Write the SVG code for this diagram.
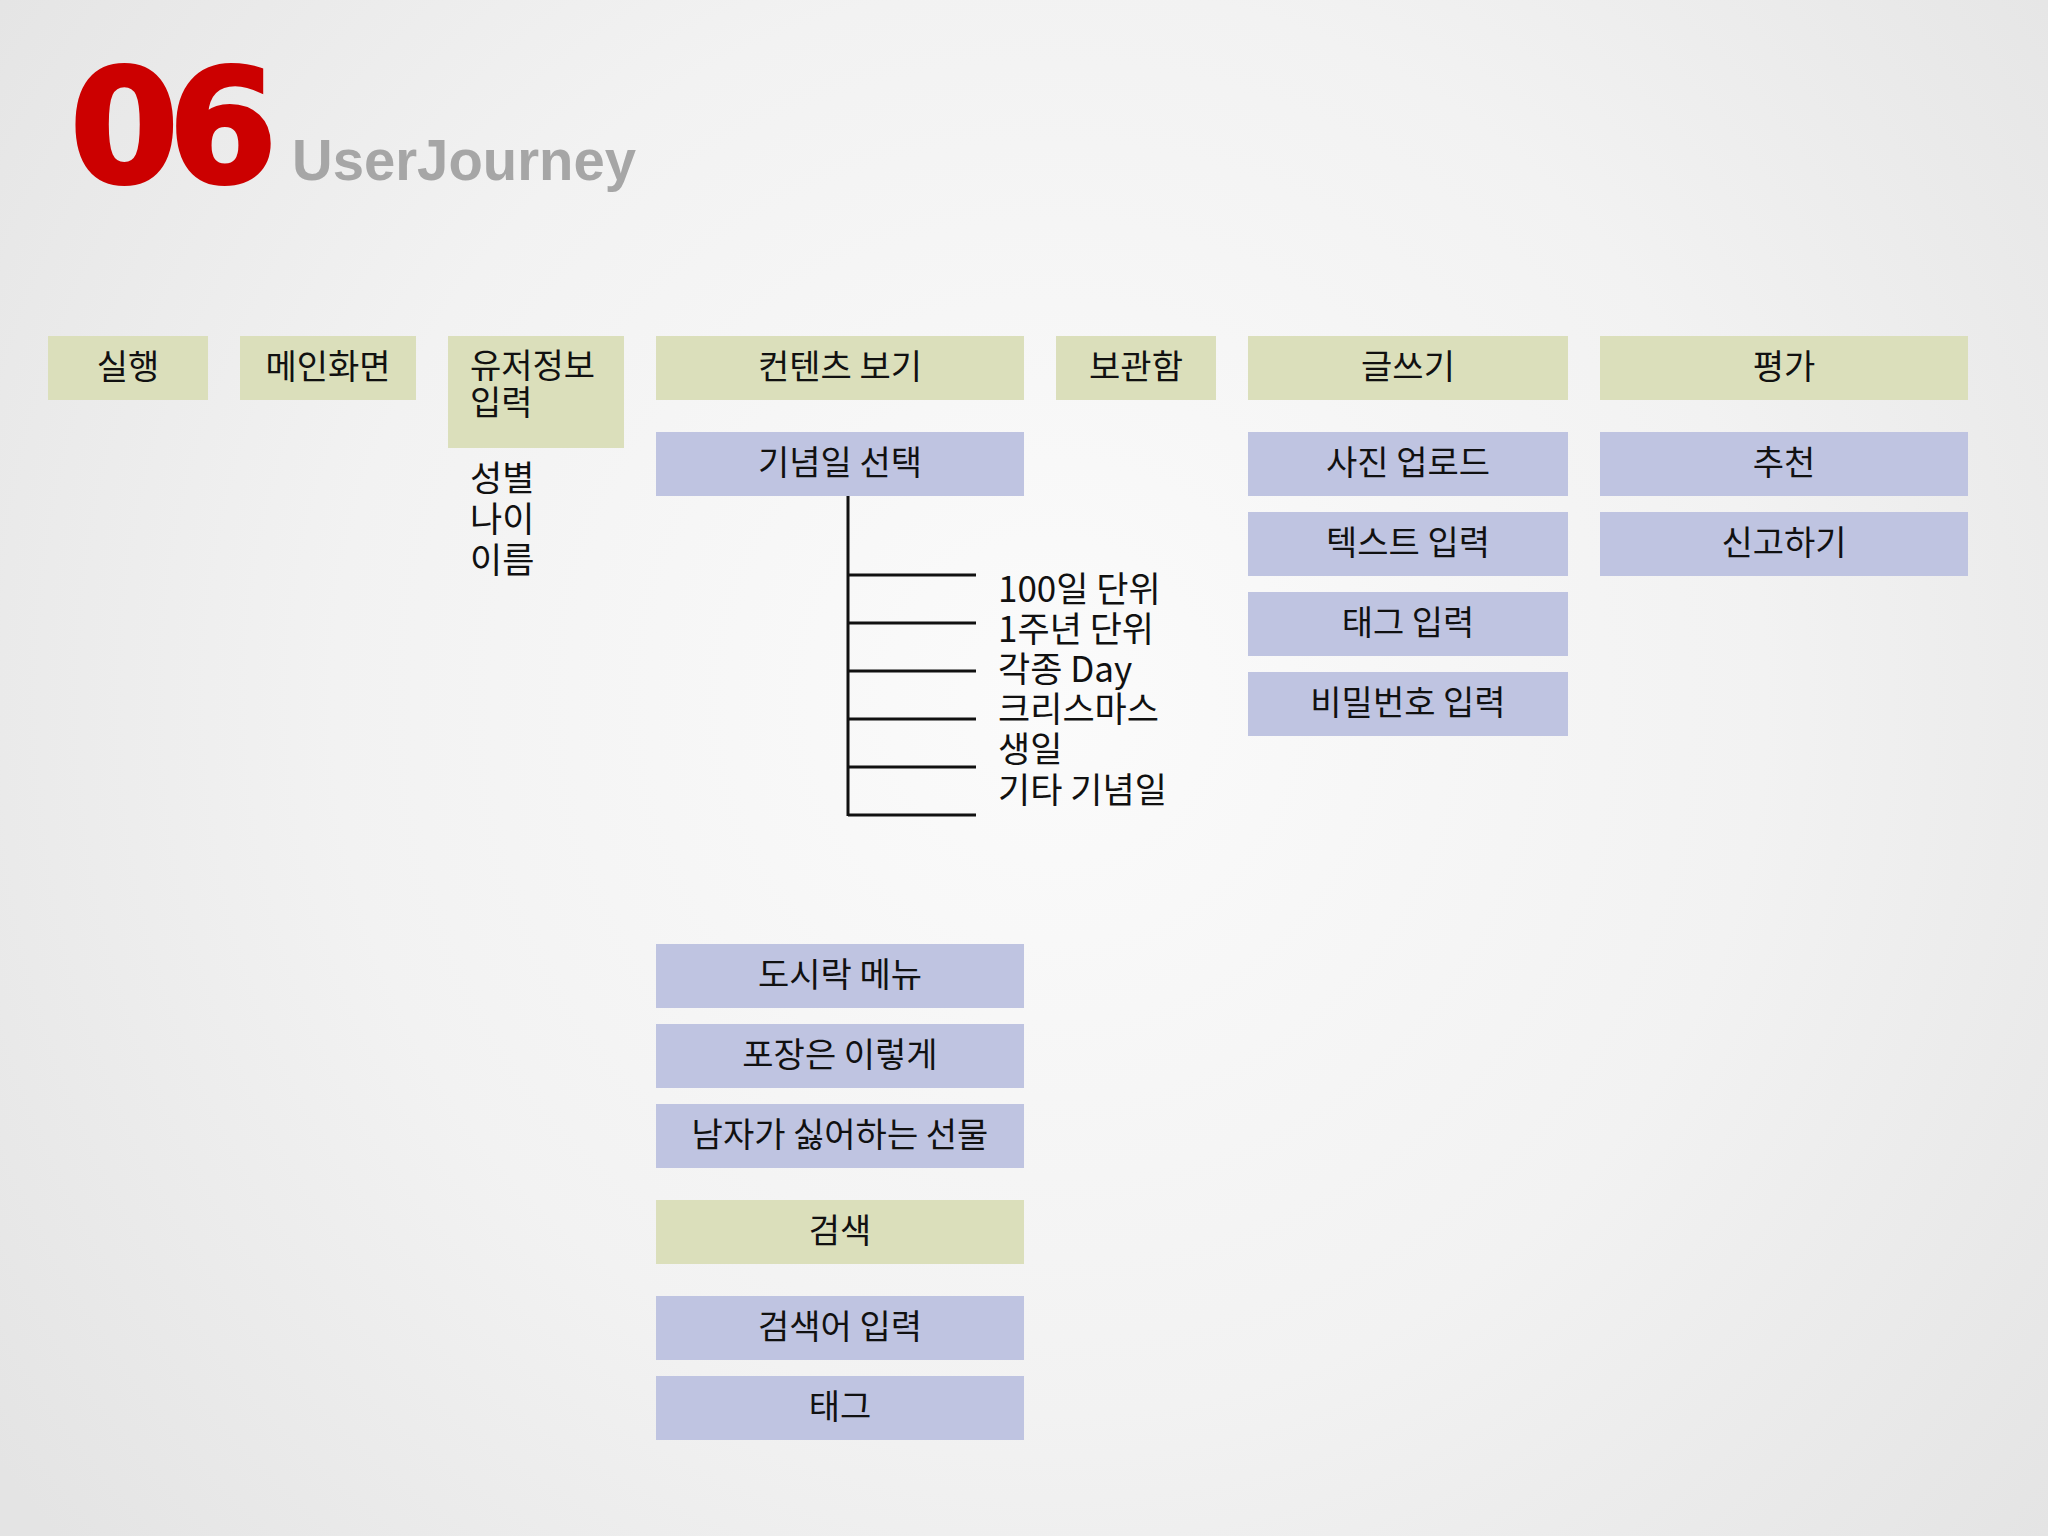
<svg xmlns="http://www.w3.org/2000/svg" width="2048" height="1536" viewBox="0 0 2048 1536">
<defs>
<radialGradient id="bg" cx="1050" cy="700" r="1300" gradientUnits="userSpaceOnUse">
<stop offset="0" stop-color="#fbfbfb"/>
<stop offset="0.55" stop-color="#f2f2f2"/>
<stop offset="1" stop-color="#e4e4e4"/>
</radialGradient>
<style>
.g{fill:#dbdfbb}
.b{fill:#bfc4e1}
.t{font-family:"Noto Sans CJK KR","Liberation Sans",sans-serif;font-size:34px;fill:#111;text-anchor:middle}
.tl{font-family:"Noto Sans CJK KR","Liberation Sans",sans-serif;font-size:34px;fill:#111}
.lst{font-family:"Noto Sans CJK KR","Liberation Sans",sans-serif;font-size:35px;fill:#111}
.ln{stroke:#111;stroke-width:3;fill:none}
</style>
</defs>
<rect width="2048" height="1536" fill="url(#bg)"/>
<g id="title">
<text x="70" y="182" font-family="DejaVu Sans" font-weight="bold" font-size="156" fill="#cc0000" stroke="#cc0000" stroke-width="4" letter-spacing="-10">06</text>
<text x="292" y="180" font-family="Liberation Sans" font-weight="bold" font-size="58" fill="#a6a6a6" textLength="344" lengthAdjust="spacingAndGlyphs">UserJourney</text>
</g>
<g id="n-run"><rect class="g" x="48" y="336" width="160" height="64"/><text class="t" x="128" y="379">실행</text></g>
<g id="n-main"><rect class="g" x="240" y="336" width="176" height="64"/><text class="t" x="328" y="379">메인화면</text></g>
<g id="n-user"><rect class="g" x="448" y="336" width="176" height="112"/><text class="tl" x="470" y="378">유저정보</text><text class="tl" x="470" y="415">입력</text></g>
<g id="n-userinfo"><text class="lst" x="470" y="491">성별</text><text class="lst" x="470" y="532">나이</text><text class="lst" x="470" y="573">이름</text></g>
<g id="n-content"><rect class="g" x="656" y="336" width="368" height="64"/><text class="t" x="840" y="379">컨텐츠 보기</text></g>
<g id="n-box"><rect class="g" x="1056" y="336" width="160" height="64"/><text class="t" x="1136" y="379">보관함</text></g>
<g id="n-write"><rect class="g" x="1248" y="336" width="320" height="64"/><text class="t" x="1408" y="379">글쓰기</text></g>
<g id="n-rate"><rect class="g" x="1600" y="336" width="368" height="64"/><text class="t" x="1784" y="379">평가</text></g>
<g id="n-anniv"><rect class="b" x="656" y="432" width="368" height="64"/><text class="t" x="840" y="475">기념일 선택</text></g>
<g id="n-anniv-list">
<text class="lst" x="998" y="602">100일 단위</text>
<text class="lst" x="998" y="642">1주년 단위</text>
<text class="lst" x="998" y="682">각종 Day</text>
<text class="lst" x="998" y="722">크리스마스</text>
<text class="lst" x="998" y="762">생일</text>
<text class="lst" x="998" y="803">기타 기념일</text>
</g>
<g id="n-photo"><rect class="b" x="1248" y="432" width="320" height="64"/><text class="t" x="1408" y="475">사진 업로드</text></g>
<g id="n-text"><rect class="b" x="1248" y="512" width="320" height="64"/><text class="t" x="1408" y="555">텍스트 입력</text></g>
<g id="n-tag"><rect class="b" x="1248" y="592" width="320" height="64"/><text class="t" x="1408" y="635">태그 입력</text></g>
<g id="n-pw"><rect class="b" x="1248" y="672" width="320" height="64"/><text class="t" x="1408" y="715">비밀번호 입력</text></g>
<g id="n-rec"><rect class="b" x="1600" y="432" width="368" height="64"/><text class="t" x="1784" y="475">추천</text></g>
<g id="n-report"><rect class="b" x="1600" y="512" width="368" height="64"/><text class="t" x="1784" y="555">신고하기</text></g>
<g id="n-lunch"><rect class="b" x="656" y="944" width="368" height="64"/><text class="t" x="840" y="987">도시락 메뉴</text></g>
<g id="n-wrap"><rect class="b" x="656" y="1024" width="368" height="64"/><text class="t" x="840" y="1067">포장은 이렇게</text></g>
<g id="n-hate"><rect class="b" x="656" y="1104" width="368" height="64"/><text class="t" x="840" y="1147">남자가 싫어하는 선물</text></g>
<g id="n-search"><rect class="g" x="656" y="1200" width="368" height="64"/><text class="t" x="840" y="1243">검색</text></g>
<g id="n-keyword"><rect class="b" x="656" y="1296" width="368" height="64"/><text class="t" x="840" y="1339">검색어 입력</text></g>
<g id="n-tag2"><rect class="b" x="656" y="1376" width="368" height="64"/><text class="t" x="840" y="1419">태그</text></g>
<g id="connectors">
<path class="ln" d="M848 496V816"/>
<path class="ln" d="M848 575H976M848 623H976M848 671H976M848 719H976M848 767H976M848 815H976"/>
</g>
</svg>
